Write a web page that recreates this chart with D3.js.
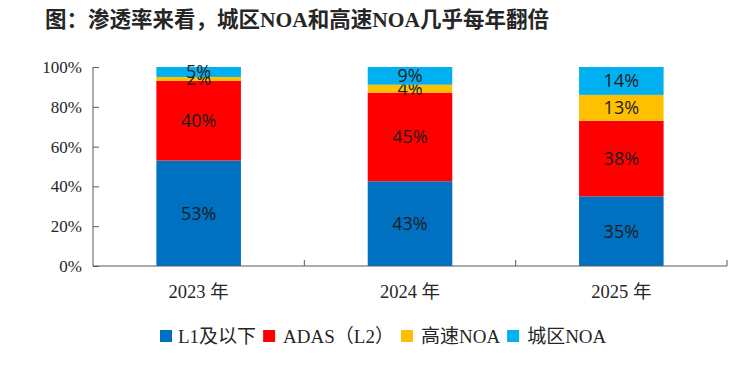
<!DOCTYPE html>
<html>
<head>
<meta charset="utf-8">
<script src="https://cdn.jsdelivr.net/npm/d3@7"></script>
<style>
  body { margin: 0; background: #fff; }
</style>
</head>
<body>
<div id="chart"></div>
<script>
const years = ["2023 年", "2024 年", "2025 年"];
const seriesNames = ["L1及以下", "ADAS（L2）", "高速NOA", "城区NOA"];
const l1Values = [53, 43, 35];
const adasValues = [40, 45, 38];
const highwayNoaValues = [2, 4, 13];
const cityNoaValues = [5, 9, 14];
const yTicks = [0, 0.2, 0.4, 0.6, 0.8, 1];
const colors = ["#0070C0", "#FF0000", "#FFC000", "#00B0F0"];

const width = 750, height = 368;
const margin = { top: 67, right: 23, bottom: 102, left: 93 };
const innerW = width - margin.left - margin.right;
const innerH = height - margin.top - margin.bottom;

const rows = years.map((y, i) => ({
    year: y,
    [seriesNames[0]]: l1Values[i],
    [seriesNames[1]]: adasValues[i],
    [seriesNames[2]]: highwayNoaValues[i],
    [seriesNames[3]]: cityNoaValues[i]
}));

const stacked = d3.stack()
    .keys(seriesNames)
    .offset(d3.stackOffsetExpand)(rows);

const svg = d3.select("#chart")
    .append("svg")
    .attr("width", width)
    .attr("height", height)
    .style("font-family", "'Liberation Serif', 'Noto Sans CJK SC', serif");

// title
svg.append("text")
    .attr("x", 45)
    .attr("y", 27)
    .attr("font-size", "21.5px")
    .attr("font-weight", "bold")
    .attr("fill", "#262626")
    .text("图：渗透率来看，城区NOA和高速NOA几乎每年翻倍");

const g = svg.append("g")
    .attr("transform", `translate(${margin.left},${margin.top})`);

const x = d3.scaleBand()
    .domain(years)
    .range([0, innerW])
    .padding(0);

const barW = x.bandwidth() * 0.4;

const y = d3.scaleLinear()
    .domain([0, 1])
    .range([innerH, 0]);

const colorScale = d3.scaleOrdinal()
    .domain(seriesNames)
    .range(colors);

// bars
const layers = g.selectAll(".layer")
    .data(stacked)
    .enter()
    .append("g")
    .attr("class", "layer")
    .attr("fill", d => colorScale(d.key));

layers.selectAll("rect")
    .data(d => d)
    .enter()
    .append("rect")
    .attr("x", d => x(d.data.year) + (x.bandwidth() - barW) / 2)
    .attr("width", barW)
    .attr("y", d => y(d[1]))
    .attr("height", d => y(d[0]) - y(d[1]));

// value labels
layers.selectAll("text")
    .data(d => d.map(v => ({ v, key: d.key })))
    .enter()
    .append("text")
    .attr("x", d => x(d.v.data.year) + x.bandwidth() / 2)
    .attr("y", d => (y(d.v[0]) + y(d.v[1])) / 2)
    .attr("dy", "0.36em")
    .attr("text-anchor", "middle")
    .attr("fill", "#1c1c1c")
    .style("font-family", "'Open Sans', 'Liberation Sans', sans-serif")
    .attr("font-size", "18px")
    .text(d => d.v.data[d.key] + "%");

// y axis
const yAxis = g.append("g")
    .call(d3.axisLeft(y)
        .tickValues(yTicks)
        .tickSize(-6)
        .tickPadding(11)
        .tickFormat(d3.format(".0%")));
yAxis.select(".domain").attr("stroke", "#595959").attr("d", `M0,${innerH}V0`);
yAxis.selectAll(".tick line").attr("stroke", "#595959");
yAxis.selectAll("text")
    .attr("font-size", "17px")
    .attr("fill", "#262626")
    .style("font-family", "'Liberation Serif', serif");

// x axis
const xAxis = g.append("g")
    .attr("transform", `translate(0,${innerH})`);
xAxis.append("line")
    .attr("x1", 0)
    .attr("x2", innerW)
    .attr("stroke", "#595959");
xAxis.selectAll(".xtick")
    .data(years)
    .enter()
    .append("line")
    .attr("class", "xtick")
    .attr("x1", d => x(d) + x.bandwidth())
    .attr("x2", d => x(d) + x.bandwidth())
    .attr("y1", 0)
    .attr("y2", -6)
    .attr("stroke", "#595959");
xAxis.selectAll(".xlabel")
    .data(years)
    .enter()
    .append("text")
    .attr("class", "xlabel")
    .attr("x", d => x(d) + x.bandwidth() / 2)
    .attr("y", 32)
    .attr("text-anchor", "middle")
    .attr("font-size", "18.5px")
    .attr("fill", "#262626")
    .text(d => d);

// legend
const legend = svg.append("g")
    .attr("transform", `translate(160,336)`);
let lx = 0;
seriesNames.forEach((name, i) => {
    const item = legend.append("g").attr("transform", `translate(${lx},0)`);
    item.append("rect")
        .attr("x", 0)
        .attr("y", -6)
        .attr("width", 12)
        .attr("height", 12)
        .attr("fill", colorScale(name));
    const t = item.append("text")
        .attr("x", i === 0 ? 18 : 20)
        .attr("y", 0)
        .attr("dy", "0.35em")
        .attr("font-size", "19px")
        .attr("fill", "#262626")
        .text(name);
    lx += (i === 0 ? 18 : 20) + t.node().getComputedTextLength() + 7;
});
</script>
</body>
</html>
